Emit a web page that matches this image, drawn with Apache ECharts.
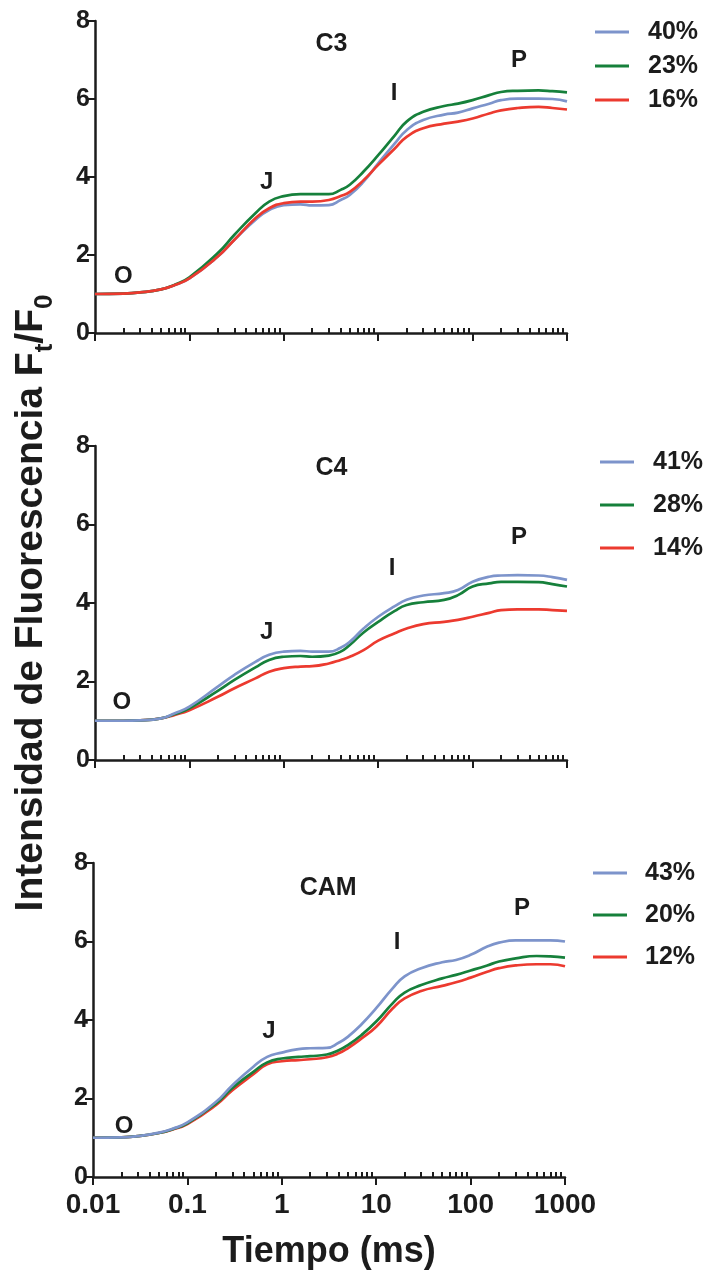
<!DOCTYPE html>
<html><head><meta charset="utf-8">
<script src="https://cdn.jsdelivr.net/npm/echarts@6/dist/echarts.min.js"></script>
<style>html,body{margin:0;padding:0;background:#fff}#c{width:707px;height:1281px}</style>
</head><body><div id="c"></div>
<script>
// ---------- DATA ----------
const time = [0.01, 0.02, 0.03, 0.05, 0.07, 0.1, 0.2, 0.3, 0.5, 0.7, 1, 1.5, 2, 3, 4, 5, 7, 10, 15, 20, 30, 50, 70, 100, 150, 200, 300, 500, 700, 1000];
const xTickLabels = ['0.01', '0.1', '1', '10', '100', '1000'];
const minorTicks = [0.02,0.03,0.04,0.05,0.06,0.07,0.08,0.09,0.2,0.3,0.4,0.5,0.6,0.7,0.8,0.9,2,3,4,5,6,7,8,9,20,30,40,50,60,70,80,90,200,300,400,500,600,700,800,900];

// C3
const c3Names = ['40%', '23%', '16%'];
const c3Blue  = [1.0, 1.01, 1.04, 1.12, 1.23, 1.40, 1.96, 2.39, 2.90, 3.15, 3.28, 3.30, 3.27, 3.28, 3.41, 3.54, 3.88, 4.35, 4.86, 5.20, 5.46, 5.60, 5.65, 5.76, 5.88, 5.97, 6.01, 6.01, 6.00, 5.94];
const c3Green = [1.0, 1.01, 1.04, 1.12, 1.24, 1.43, 2.05, 2.52, 3.07, 3.37, 3.51, 3.56, 3.56, 3.56, 3.67, 3.80, 4.14, 4.56, 5.07, 5.42, 5.67, 5.82, 5.88, 5.97, 6.10, 6.18, 6.21, 6.22, 6.20, 6.17];
const c3Red   = [1.0, 1.01, 1.04, 1.12, 1.23, 1.40, 1.96, 2.39, 2.94, 3.20, 3.33, 3.37, 3.37, 3.41, 3.51, 3.62, 3.92, 4.31, 4.73, 5.03, 5.25, 5.37, 5.42, 5.50, 5.63, 5.71, 5.77, 5.80, 5.77, 5.73];
const c3Marks = [['O', 0.02, 1.46], ['J', 0.66, 3.86], ['I', 14.7, 6.14], ['P', 310, 6.98]];
const c3Title = ['C3', 3.2, 7.42];

// C4
const c4Names = ['41%', '28%', '14%'];
const c4Blue  = [1.0, 1.0, 1.01, 1.06, 1.19, 1.36, 1.87, 2.17, 2.50, 2.68, 2.76, 2.78, 2.76, 2.76, 2.86, 3.01, 3.35, 3.65, 3.92, 4.08, 4.19, 4.25, 4.33, 4.54, 4.67, 4.70, 4.71, 4.70, 4.66, 4.59];
const c4Green = [1.0, 1.0, 1.01, 1.06, 1.17, 1.32, 1.76, 2.04, 2.36, 2.55, 2.63, 2.65, 2.63, 2.66, 2.76, 2.93, 3.25, 3.52, 3.80, 3.95, 4.02, 4.08, 4.20, 4.42, 4.50, 4.54, 4.54, 4.53, 4.48, 4.42];
const c4Red   = [1.0, 1.0, 1.01, 1.06, 1.15, 1.27, 1.61, 1.83, 2.08, 2.25, 2.34, 2.38, 2.39, 2.46, 2.55, 2.63, 2.80, 3.04, 3.23, 3.35, 3.46, 3.52, 3.57, 3.65, 3.75, 3.82, 3.84, 3.84, 3.82, 3.80];
const c4Marks = [['O', 0.0193, 1.48], ['J', 0.66, 3.26], ['I', 14.0, 4.87], ['P', 310, 5.66]];
const c4Title = ['C4', 3.2, 7.44];

// CAM
const camNames = ['43%', '20%', '12%'];
const camBlue  = [1.0, 1.01, 1.04, 1.13, 1.23, 1.39, 1.91, 2.34, 2.81, 3.06, 3.17, 3.26, 3.28, 3.29, 3.42, 3.57, 3.89, 4.30, 4.81, 5.11, 5.32, 5.47, 5.53, 5.66, 5.87, 5.97, 6.03, 6.03, 6.03, 6.00];
const camGreen = [1.0, 1.01, 1.04, 1.12, 1.22, 1.37, 1.87, 2.27, 2.68, 2.92, 3.02, 3.06, 3.08, 3.12, 3.23, 3.36, 3.62, 3.96, 4.43, 4.70, 4.89, 5.06, 5.15, 5.26, 5.39, 5.49, 5.57, 5.63, 5.62, 5.59];
const camRed   = [1.0, 1.01, 1.04, 1.12, 1.21, 1.35, 1.83, 2.21, 2.62, 2.87, 2.95, 2.98, 3.00, 3.05, 3.15, 3.28, 3.53, 3.83, 4.30, 4.55, 4.74, 4.87, 4.96, 5.08, 5.23, 5.32, 5.39, 5.42, 5.42, 5.37];
const camMarks = [['O', 0.0213, 1.30], ['J', 0.73, 3.72], ['I', 16.6, 5.99], ['P', 351, 6.85]];
const camTitle = ['CAM', 3.1, 7.36];

// ---------- STYLE / LAYOUT ----------
const FONT = 'Liberation Sans, Arial, Helvetica, sans-serif';
const INK = '#1c1c1c';
const BLUE = '#7d94cb', GREEN = '#16803b', RED = '#ec3a2f';

const panels = [
  { names: c3Names, vals: [c3Blue, c3Green, c3Red], order: [0, 1, 2], marks: c3Marks, title: c3Title,
    grid: { left: 95, top: 21, width: 472, height: 312 },
    legend: { left: 595, top: 19, gap: 8, textPad: 14 } },
  { names: c4Names, vals: [c4Blue, c4Green, c4Red], order: [2, 1, 0], marks: c4Marks, title: c4Title,
    grid: { left: 95, top: 446, width: 472, height: 314 },
    legend: { left: 600, top: 449, gap: 17, textPad: 14 } },
  { names: camNames, vals: [camBlue, camGreen, camRed], order: [2, 1, 0], marks: camMarks, title: camTitle,
    grid: { left: 93, top: 863, width: 472, height: 314 },
    legend: { left: 593, top: 860, gap: 16, textPad: 13 } }
];
const colors = [BLUE, GREEN, RED];

const grid = [], xAxis = [], yAxis = [], series = [], legend = [];
panels.forEach((p, i) => {
  grid.push(Object.assign({ containLabel: false }, p.grid));
  const last = i === panels.length - 1;
  xAxis.push({
    type: 'log', logBase: 10, gridIndex: i, min: 0.01, max: 1000,
    axisLine: { show: true, onZero: false, lineStyle: { color: INK, width: 2.5 } },
    axisTick: { show: true, length: 8, lineStyle: { color: INK, width: 2 } },
    axisLabel: { show: last, fontSize: 28, fontWeight: 'bold', color: INK, fontFamily: FONT, margin: 14,
      formatter: v => xTickLabels[Math.round(Math.log10(v)) + 2] },
    splitLine: { show: false }, minorTick: { show: false },
    name: last ? 'Tiempo (ms)' : '', nameLocation: 'middle', nameGap: 57,
    nameTextStyle: { fontSize: 36, fontWeight: 'bold', color: INK, fontFamily: FONT }
  });
  xAxis.push({
    type: 'log', logBase: 10, gridIndex: i, min: 0.01, max: 1000,
    axisLine: { show: false },
    axisTick: { show: true, length: 5, customValues: minorTicks, lineStyle: { color: INK, width: 2 } },
    axisLabel: { show: false }, splitLine: { show: false }
  });
  yAxis.push({
    type: 'value', gridIndex: i, min: 0, max: 8, interval: 2,
    axisLine: { show: true, lineStyle: { color: INK, width: 2.5 } },
    axisTick: { show: true, length: 8, lineStyle: { color: INK, width: 2 } },
    axisLabel: { fontSize: 25, fontWeight: 'bold', color: INK, fontFamily: FONT, margin: 5 },
    splitLine: { show: false }
  });
  p.order.forEach(k => {
    series.push({
      type: 'line', name: p.names[k], xAxisIndex: 2 * i, yAxisIndex: i,
      data: time.map((t, j) => [t, p.vals[k][j]]),
      smooth: 0.5, symbol: 'none', showSymbol: false,
      color: colors[k], lineStyle: { width: 2.7, color: colors[k] }, z: 3
    });
  });
  series.push({
    type: 'scatter', name: 'notes' + i, xAxisIndex: 2 * i, yAxisIndex: i,
    symbolSize: 1, itemStyle: { color: 'rgba(0,0,0,0)', opacity: 1 }, silent: true, z: 5,
    label: { show: true, position: 'inside', formatter: '{b}', fontSize: 24, fontWeight: 'bold', color: INK, fontFamily: FONT, opacity: 1 },
    emphasis: { disabled: true },
    data: p.marks.map(m => ({ name: m[0], value: [m[1], m[2]] }))
      .concat([{ name: p.title[0], value: [p.title[1], p.title[2]], label: { fontSize: 25 } }])
  });
  legend.push({
    data: p.names, orient: 'vertical', left: p.legend.left, top: p.legend.top,
    padding: 0, itemGap: p.legend.gap, itemWidth: 34, itemHeight: 3, icon: 'rect',
    selectedMode: false,
    textStyle: { fontSize: 25, fontWeight: 'bold', color: INK, fontFamily: FONT, lineHeight: 26,
      padding: [0, 0, 0, p.legend.textPad] }
  });
});

const chart = echarts.init(document.getElementById('c'), null, { renderer: 'canvas' });
chart.setOption({
  backgroundColor: '#fff',
  animation: false,
  grid, xAxis, yAxis, series, legend,
  graphic: [{
    type: 'text', x: 31, y: 603, rotation: Math.PI / 2, silent: true,
    style: {
      text: '{m|Intensidad de Fluorescencia F}{s|t}{m|/F}{s|0}',
      align: 'center', verticalAlign: 'middle',
      rich: {
        m: { fontSize: 39, fontWeight: 'bold', fontFamily: FONT, fill: INK, lineHeight: 54, verticalAlign: 'middle' },
        s: { fontSize: 26, fontWeight: 'bold', fontFamily: FONT, fill: INK, lineHeight: 26, verticalAlign: 'bottom' }
      }
    }
  }]
});
</script>
</body></html>
